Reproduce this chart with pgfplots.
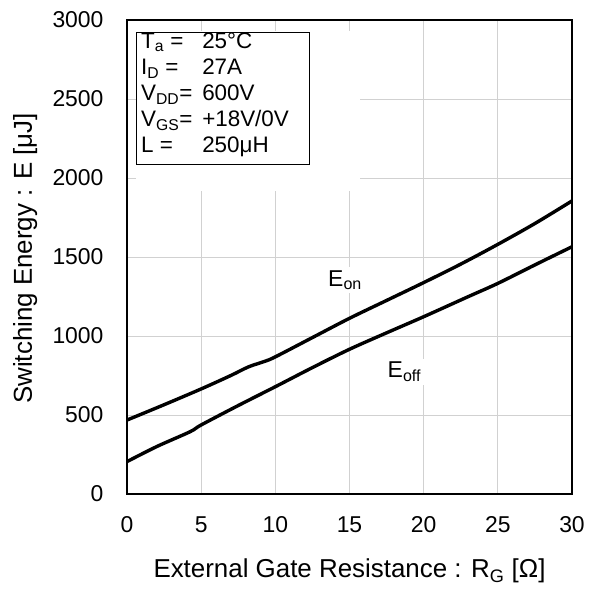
\documentclass[border=0pt]{standalone}
\usepackage{fontspec}
\setmainfont{Liberation Sans}
\usepackage{pgfplots}
\pgfplotsset{compat=1.18}
\begin{document}
\begin{tikzpicture}
\begin{axis}[
 scale only axis, width=445bp, height=474bp,
 xmin=0, xmax=30, ymin=0, ymax=3000,
 xtick={0,5,...,30}, ytick={0,500,...,3000},
 grid=major, grid style={draw=black!18, line width=0.9bp},
 major tick length=0pt,
 axis line style={line width=2.4bp},
 /pgf/number format/assume math mode=true,
 /pgf/number format/1000 sep={},
 scaled y ticks=false,
 tick label style={font=\fontsize{23}{27}\selectfont},
 xticklabel style={yshift=-19bp},
 yticklabel style={xshift=-20bp},
 xlabel={External Gate Resistance : R\textsubscript{G} [Ω]},
 ylabel={Switching Energy : E [μJ]},
 label style={font=\fontsize{26}{31}\selectfont},
 xlabel style={at={(axis description cs:0.5,-0.163)}, anchor=center},
 ylabel style={at={(axis description cs:-0.229,0.497)}, anchor=center},
]
\fill[white] (axis cs:0.6,1918) rectangle (axis cs:15.7,2930);
\draw[line width=1bp] (axis cs:0.67,2085) rectangle (axis cs:12.3,2918);
\begin{scope}[every node/.style={anchor=base west, font=\fontsize{22.5}{26}\selectfont, inner sep=0pt}]
\node at (axis cs:0.94,2820) {T\textsubscript{a} =};
\node at (axis cs:5.06,2820) {25°C};
\node at (axis cs:0.94,2655) {I\textsubscript{D} =};
\node at (axis cs:5.06,2655) {27A};
\node at (axis cs:0.94,2491) {V\textsubscript{DD}=};
\node at (axis cs:5.06,2491) {600V};
\node at (axis cs:0.94,2326) {V\textsubscript{GS}=};
\node at (axis cs:5.06,2326) {+18V/0V};
\node at (axis cs:0.94,2161) {L =};
\node at (axis cs:5.06,2161) {250μH};
\end{scope}
\node[fill=white, font=\fontsize{23}{27}\selectfont, inner sep=3bp] at (axis cs:14.7,1354) {E\textsubscript{on}};
\node[fill=white, font=\fontsize{23}{27}\selectfont, inner sep=3bp] at (axis cs:18.7,772) {E\textsubscript{off}};
\addplot[black, line width=3.4bp, smooth, tension=0.5] coordinates {
(0,468) (2.5,565) (5,665) (7,750) (8.2,805) (9.3,840) (10,868) (12.5,990) (15,1112) (17.5,1225) (20,1338) (22.5,1455) (25,1580) (27.5,1712) (30,1855)};
\addplot[black, line width=3.4bp, smooth, tension=0.5] coordinates {
(0,205) (2,300) (4.25,394) (5,437) (7.5,560) (10,679) (12.5,800) (15,916) (17.5,1020) (20,1122) (23,1249) (25,1333) (27.5,1450) (30,1565)};
\end{axis}
\pgfresetboundingbox
\path[use as bounding box] ([xshift=-127bp,yshift=-97bp]current axis.south west) rectangle ([xshift=26bp,yshift=20bp]current axis.north east);
\end{tikzpicture}
\end{document}
